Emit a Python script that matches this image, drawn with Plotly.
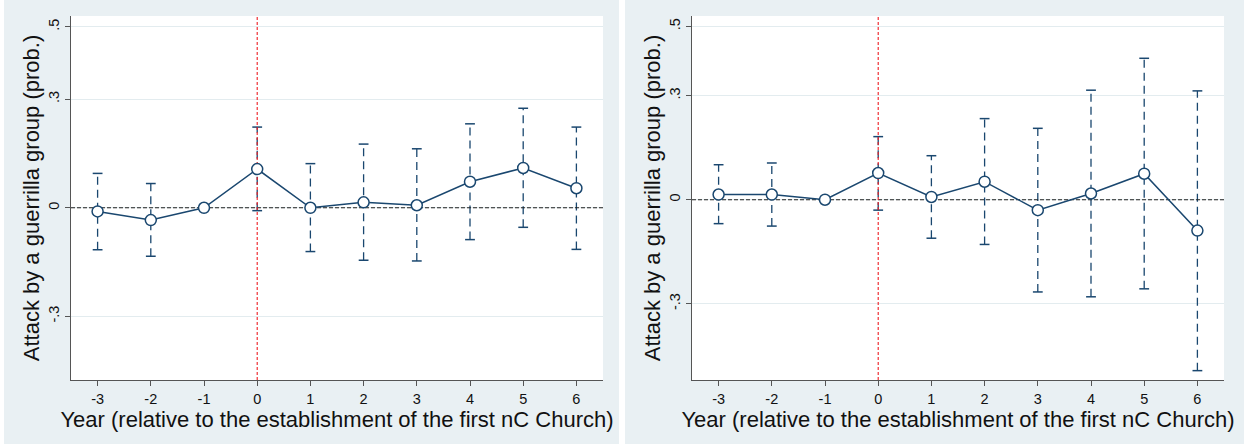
import plotly.graph_objects as go

# ---------------- data ----------------
years = [-3, -2, -1, 0, 1, 2, 3, 4, 5, 6]

left_est = [-0.010, -0.034, 0.0, 0.107, 0.0, 0.015, 0.007, 0.072, 0.110, 0.054]
left_hi = [0.095, 0.067, None, 0.223, 0.122, 0.176, 0.163, 0.232, 0.275, 0.223]
left_lo = [-0.116, -0.134, None, -0.008, -0.121, -0.145, -0.147, -0.088, -0.054, -0.115]

right_est = [0.015, 0.015, 0.0, 0.077, 0.008, 0.052, -0.030, 0.018, 0.075, -0.089]
right_hi = [0.101, 0.106, None, 0.182, 0.127, 0.234, 0.206, 0.316, 0.408, 0.314]
right_lo = [-0.069, -0.076, None, -0.030, -0.111, -0.129, -0.266, -0.280, -0.257, -0.493]

y_tickvals = [-0.3, 0, 0.3, 0.5]
y_ticktext = ["-.3", "0", ".3", ".5"]
x_title = "Year (relative to the establishment of the first nC Church)"
y_title = "Attack by a guerrilla group (prob.)"

x_range = [-3.5, 6.5]
left_y_range = [-0.476, 0.53]
right_y_range = [-0.52, 0.53]

# ---------------- style ----------------
W, H = 1244, 444
NAVY = "#1a476f"
BG = "#e9f0f3"
GRID = "#e3ecef"
AXIS = "#555555"
FONT = "Liberation Sans, Arial, Helvetica, sans-serif"

fig = go.Figure()


def add_panel(est, hi, lo, xa, ya, yrange):
    # CI dashed vertical lines
    cx, cy = [], []
    capx, capy = [], []
    for x, h, l in zip(years, hi, lo):
        if h is None:
            continue
        cx += [x, x, None]
        cy += [l, h, None]
        capx += [x, x]
        capy += [l, h]
    fig.add_trace(go.Scatter(x=cx, y=cy, mode="lines", xaxis=xa, yaxis=ya,
                             line=dict(color=NAVY, width=1.3, dash="8px,5px"),
                             hoverinfo="skip", showlegend=False))
    fig.add_trace(go.Scatter(x=capx, y=capy, mode="markers", xaxis=xa, yaxis=ya,
                             marker=dict(symbol="line-ew", size=7,
                                         line=dict(color=NAVY, width=1.5)),
                             hoverinfo="skip", showlegend=False))
    # horizontal reference at zero
    fig.add_trace(go.Scatter(x=x_range, y=[0, 0], mode="lines", xaxis=xa, yaxis=ya,
                             line=dict(color="#222222", width=1.1, dash="4px,2px"),
                             hoverinfo="skip", showlegend=False))
    # vertical red reference at year 0
    fig.add_trace(go.Scatter(x=[0, 0], y=yrange, mode="lines", xaxis=xa, yaxis=ya,
                             line=dict(color="#ee1c22", width=1.1, dash="3px,2px"),
                             hoverinfo="skip", showlegend=False))
    # point estimates
    fig.add_trace(go.Scatter(x=years, y=est, mode="lines+markers", xaxis=xa, yaxis=ya,
                             line=dict(color=NAVY, width=1.5),
                             marker=dict(size=11, color="white",
                                         line=dict(color=NAVY, width=1.5)),
                             showlegend=False))


add_panel(left_est, left_hi, left_lo, "x", "y", left_y_range)
add_panel(right_est, right_hi, right_lo, "x2", "y2", right_y_range)

# white gaps around the two grey panels
for x0, x1 in [(0, 4), (619, 625)]:
    fig.add_shape(type="rect", xref="paper", yref="paper",
                  x0=x0 / W, x1=x1 / W, y0=0, y1=1,
                  fillcolor="white", line=dict(width=0), layer="below")

ydom = [1 - 380 / H, 1 - 16 / H]
xaxis_common = dict(range=x_range, tickvals=years, ticktext=[str(v) for v in years],
                    automargin=False,
                    showgrid=False, zeroline=False, showline=True, linecolor=AXIS,
                    linewidth=1.3, ticks="outside", ticklen=5, tickcolor=AXIS,
                    tickwidth=1.2,
                    tickfont=dict(size=14.5, color="#111111", family=FONT),
                    title=dict(text=x_title, font=dict(size=22, color="#111111", family=FONT),
                               standoff=0))
yaxis_common = dict(tickvals=y_tickvals, ticktext=y_ticktext, tickangle=-90,
                    automargin=False,
                    showgrid=True, gridcolor=GRID, gridwidth=1.3, zeroline=False,
                    showline=True, linecolor=AXIS, linewidth=1.3, ticks="outside",
                    ticklen=5, tickcolor=AXIS, tickwidth=1.2,
                    tickfont=dict(size=14.5, color="#111111", family=FONT),
                    title=dict(text=y_title, font=dict(size=22, color="#111111", family=FONT),
                               standoff=0))

fig.update_layout(
    width=W, height=H,
    margin=dict(l=0, r=0, t=0, b=0),
    paper_bgcolor=BG,
    plot_bgcolor="white",
    font=dict(family=FONT),
    xaxis=dict(domain=[71 / W, 603 / W], anchor="y", **xaxis_common),
    yaxis=dict(domain=ydom, anchor="x", range=left_y_range, **yaxis_common),
    xaxis2=dict(domain=[692 / W, 1224 / W], anchor="y2", **xaxis_common),
    yaxis2=dict(domain=ydom, anchor="x2", range=right_y_range, **yaxis_common),
)

fig.write_html("out.html",
               config={"displayModeBar": False},
               post_script="document.body.style.margin='0px';"
                           "document.body.style.padding='0px';"
                           "document.body.style.overflow='hidden';")
